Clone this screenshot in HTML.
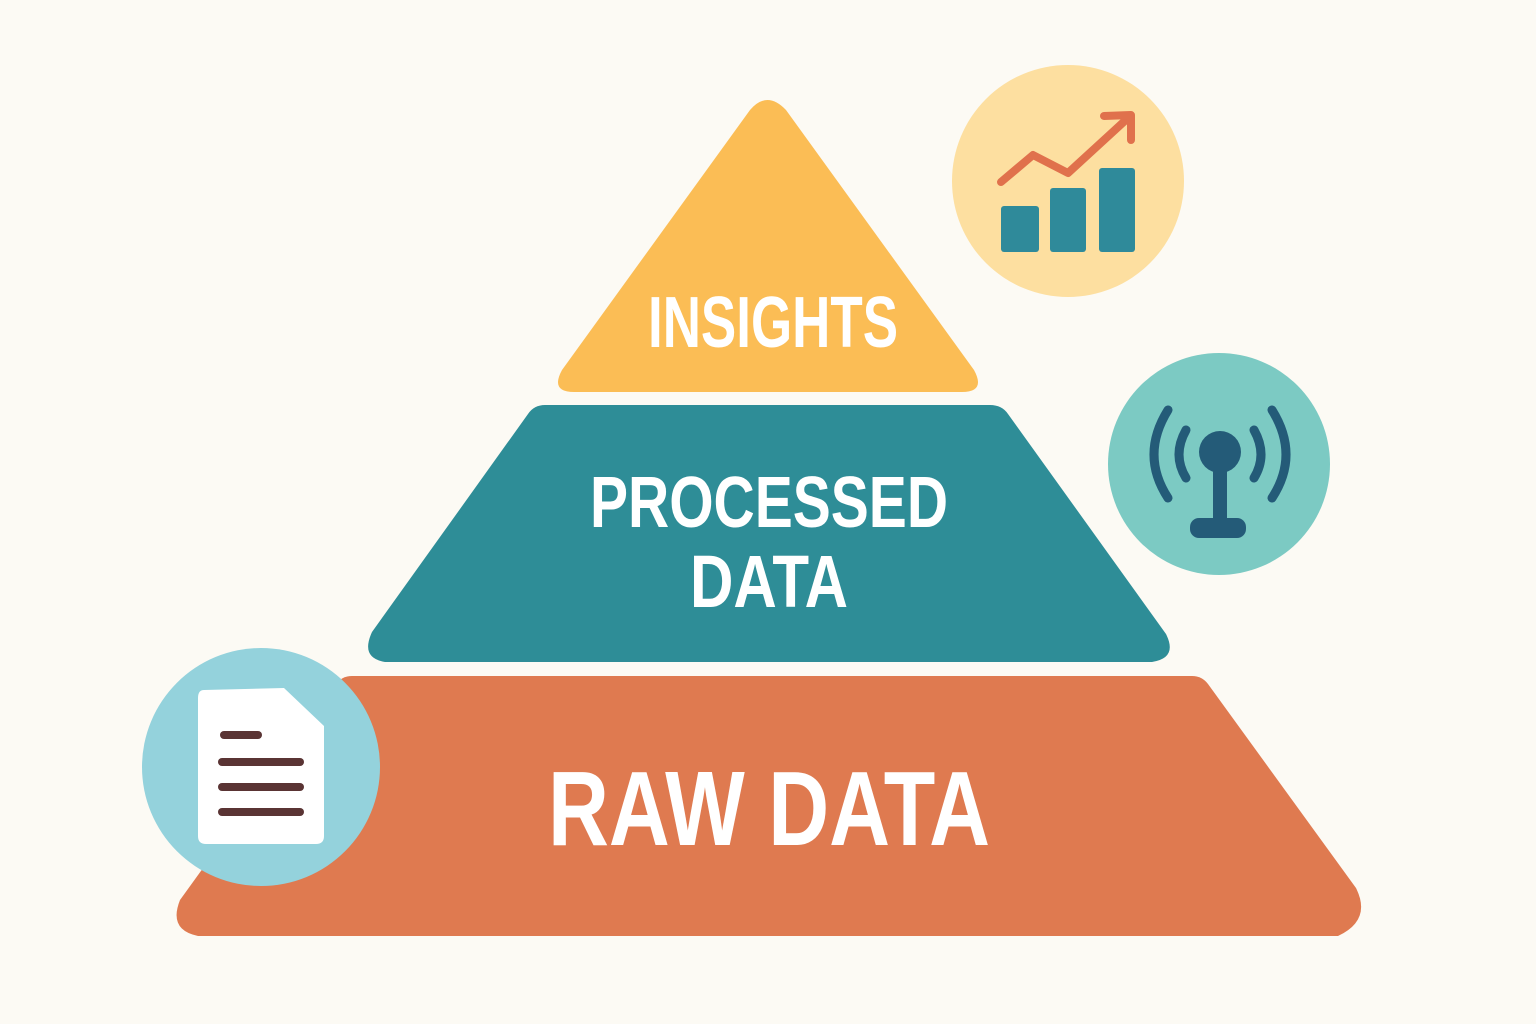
<!DOCTYPE html>
<html><head><meta charset="utf-8"><style>
html,body{margin:0;padding:0;background:#fcfaf4;}
svg{display:block}
text{font-family:"Liberation Sans Narrow","Liberation Sans",sans-serif;font-weight:bold;fill:#fff;}
</style></head><body>
<svg width="1536" height="1024" viewBox="0 0 1536 1024" xmlns="http://www.w3.org/2000/svg">
<rect width="1536" height="1024" fill="#fcfaf4"/>
<!-- bottom -->
<path d="M352 676 L1192 676 Q1202 676 1208 684 L1356 888 Q1372 920 1338 936 L198 936 Q168 930 180 900 L336 684 Q342 676 352 676 Z" fill="#df7a50"/>
<!-- middle -->
<path d="M545 405 L990 405 Q1002 405 1008 414 L1166 634 Q1178 658 1152 662 L385 662 Q360 658 372 632 L528 414 Q534 405 545 405 Z" fill="#2e8d97"/>
<!-- top -->
<path d="M750 110 Q767 90 786 110 L974 370 Q986 392 962 392 L574 392 Q550 392 562 370 Z" fill="#fbbd55"/>
<text x="773" y="347" text-anchor="middle" font-size="72" textLength="250" lengthAdjust="spacingAndGlyphs">INSIGHTS</text>
<text x="769" y="527" text-anchor="middle" font-size="72" textLength="358" lengthAdjust="spacingAndGlyphs">PROCESSED</text>
<text x="769" y="607" text-anchor="middle" font-size="74" textLength="158" lengthAdjust="spacingAndGlyphs">DATA</text>
<text x="769" y="845" text-anchor="middle" font-size="106" textLength="442" lengthAdjust="spacingAndGlyphs">RAW DATA</text>
<!-- chart circle -->
<circle cx="1068" cy="181" r="116" fill="#fddfa0"/>
<rect x="1001" y="206" width="38" height="46" rx="3" fill="#2f8a9a"/>
<rect x="1050" y="188" width="36" height="64" rx="3" fill="#2f8a9a"/>
<rect x="1099" y="168" width="36" height="84" rx="3" fill="#2f8a9a"/>
<polyline points="1001,182 1033,155 1068,173 1128,118" fill="none" stroke="#e0714c" stroke-width="8" stroke-linecap="round" stroke-linejoin="round"/>
<polyline points="1104,116 1131,115 1131,140" fill="none" stroke="#e0714c" stroke-width="8" stroke-linecap="round" stroke-linejoin="round"/>
<!-- signal circle -->
<circle cx="1219" cy="464" r="111" fill="#7ccac3"/>
<circle cx="1220" cy="452" r="21" fill="#245b78"/>
<rect x="1213" y="465" width="14" height="58" fill="#245b78"/>
<rect x="1190" y="518" width="56" height="20" rx="9" fill="#245b78"/>
<g fill="none" stroke="#245b78" stroke-width="9" stroke-linecap="round">
<path d="M1186 430 Q1172 455 1186 478"/>
<path d="M1254 430 Q1268 455 1254 478"/>
<path d="M1168 410 Q1140 455 1168 498"/>
<path d="M1272 410 Q1300 455 1272 498"/>
</g>
<!-- doc circle -->
<circle cx="261" cy="767" r="119" fill="#94d2dc"/>
<path d="M204 690 L284 688 L324 726 L324 836 Q324 844 316 844 L206 844 Q198 844 198 836 L198 698 Q198 690 204 690 Z" fill="#fff"/>
<g stroke="#5a3434" stroke-width="8" stroke-linecap="round">
<line x1="224" y1="735" x2="258" y2="735"/>
<line x1="222" y1="762" x2="300" y2="762"/>
<line x1="222" y1="787" x2="300" y2="787"/>
<line x1="222" y1="812" x2="300" y2="812"/>
</g>
</svg>
</body></html>
